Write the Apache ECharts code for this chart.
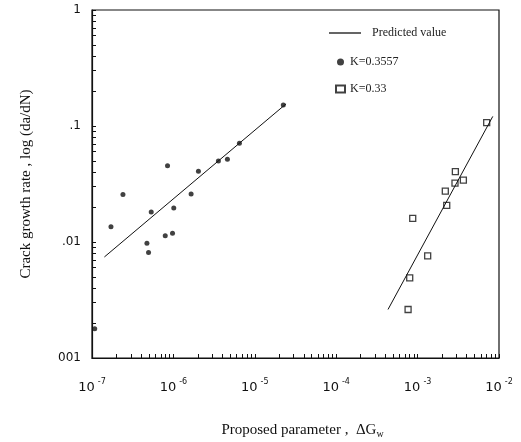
<!DOCTYPE html>
<html>
<head>
<meta charset="utf-8">
<script src="https://cdn.jsdelivr.net/npm/echarts@6/dist/echarts.min.js"></script>
<style>html,body{margin:0;padding:0;background:#fff;}#c{width:521px;height:442px;}</style>
</head>
<body>
<div id="c"></div>
<script>
// ---- data ----
var kA_x = [1.08e-7, 1.71e-7, 2.40e-7, 4.73e-7, 4.95e-7, 5.34e-7, 7.94e-7, 8.47e-7, 9.75e-7, 1.01e-6, 1.65e-6, 2.03e-6, 3.57e-6, 4.61e-6, 6.47e-6, 2.24e-5];
var kA_y = [0.00179, 0.01355, 0.0257, 0.00975, 0.0081, 0.01815, 0.0113, 0.0455, 0.0119, 0.0196, 0.0259, 0.0407, 0.0499, 0.0516, 0.071, 0.152];
var kB_x = [7.06e-3, 2.91e-3, 3.65e-3, 2.88e-3, 2.19e-3, 2.28e-3, 8.71e-4, 1.33e-3, 8.0e-4, 7.64e-4];
var kB_y = [0.107, 0.0405, 0.0342, 0.0322, 0.0274, 0.0207, 0.016, 0.0076, 0.0049, 0.00262];
var fitA_x = [1.42e-7, 2.42e-5];
var fitA_y = [0.00743, 0.155];
var fitB_x = [4.33e-4, 8.39e-3];
var fitB_y = [0.00262, 0.121];
var xTickValues = [1e-7, 1e-6, 1e-5, 1e-4, 1e-3, 1e-2];
var xTickExps = ['-7', '-6', '-5', '-4', '-3', '-2'];
var yTickValues = [0.001, 0.01, 0.1, 1];
var yTickLabels = ['001', '.01', '.1', '1'];
var minorMultipliers = [1, 2, 3, 4, 5, 6, 7, 8, 9];

function zip(a, b) { return a.map(function (v, i) { return [v, b[i]]; }); }
function minorTicks(decades) {
  var out = [];
  decades.forEach(function (d, i) {
    if (i === decades.length - 1) { out.push(d); return; }
    minorMultipliers.forEach(function (m) { out.push(d * m); });
  });
  return out;
}

var serif = 'Liberation Serif';
var chart = echarts.init(document.getElementById('c'));
chart.setOption({
  animation: false,
  backgroundColor: '#fff',
  textStyle: { fontFamily: serif, color: '#111' },
  grid: { left: 92, right: 22, top: 10, bottom: 84, show: true, borderColor: '#111', borderWidth: 1.2,
    containLabel: false, outerBoundsMode: 'none' },
  legend: [
    {
      data: [{ name: 'Predicted value', icon: 'rect' }], left: 324, top: 22, itemWidth: 32, itemHeight: 1.3, itemGap: 10,
      textStyle: { fontFamily: serif, fontSize: 12, color: '#222', padding: [0, 0, 0, 6] }
    },
    {
      data: ['K=0.3557', 'K=0.33'], orient: 'vertical', left: 330, top: 51, itemWidth: 9, itemHeight: 7, itemGap: 15,
      textStyle: { fontFamily: serif, fontSize: 12, color: '#222' }
    }
  ],
  xAxis: {
    type: 'log', logBase: 10, min: 1e-7, max: 1e-2,
    name: 'Proposed parameter ,  ΔG{sub|w}',
    nameLocation: 'middle', nameGap: 63,
    nameTextStyle: { fontFamily: serif, fontSize: 15, color: '#111', padding: [0, 0, 0, 14],
      rich: { sub: { fontFamily: serif, fontSize: 10, padding: [8, 0, 0, 0], color: '#111' } } },
    axisLine: { show: true, lineStyle: { color: '#111', width: 1.2 } },
    axisTick: { show: true, inside: true, length: 4, lineStyle: { color: '#111' }, customValues: minorTicks(xTickValues) },
    axisLabel: {
      customValues: xTickValues, margin: 17,
      formatter: function (v) {
        var i = xTickValues.findIndex(function (t) { return Math.abs(Math.log10(t) - Math.log10(v)) < 1e-6; });
        return '{b|10}{s|' + (i >= 0 ? xTickExps[i] : '') + '}';
      },
      rich: {
        b: { fontFamily: 'DejaVu Sans', fontSize: 13, color: '#111', padding: [6, 0, 0, 0] },
        s: { fontFamily: 'DejaVu Sans', fontSize: 8, color: '#111', padding: [0, 0, 6, 3] }
      }
    },
    splitLine: { show: false }
  },
  yAxis: {
    type: 'log', logBase: 10, min: 0.001, max: 1,
    name: 'Crack growth rate , log (da/dN)',
    nameLocation: 'middle', nameGap: 58,
    nameTextStyle: { fontFamily: serif, fontSize: 15, color: '#111', padding: [0, 0, 0, 0] },
    axisLine: { show: true, lineStyle: { color: '#111', width: 1.2 } },
    axisTick: { show: true, inside: true, length: 4, lineStyle: { color: '#111' }, customValues: minorTicks(yTickValues) },
    axisLabel: {
      customValues: yTickValues, margin: 11, fontFamily: 'DejaVu Sans', fontSize: 12, color: '#111',
      formatter: function (v) {
        var i = yTickValues.findIndex(function (t) { return Math.abs(Math.log10(t) - Math.log10(v)) < 1e-6; });
        return i >= 0 ? yTickLabels[i] : '';
      }
    },
    splitLine: { show: false }
  },
  series: [
    { name: 'Predicted value', type: 'line', data: zip(fitA_x, fitA_y), symbol: 'none',
      lineStyle: { color: '#111', width: 1 }, itemStyle: { color: '#111' } },
    { name: 'Predicted value', type: 'line', data: zip(fitB_x, fitB_y), symbol: 'none',
      lineStyle: { color: '#111', width: 1 }, itemStyle: { color: '#111' } },
    { name: 'K=0.3557', type: 'scatter', data: zip(kA_x, kA_y), symbol: 'circle', symbolSize: 5,
      itemStyle: { color: '#111' } },
    { name: 'K=0.33', type: 'scatter', data: zip(kB_x, kB_y), symbol: 'rect', symbolSize: 6,
      itemStyle: { color: '#fff', borderColor: '#111', borderWidth: 1.3 } }
  ]
});
</script>
</body>
</html>
